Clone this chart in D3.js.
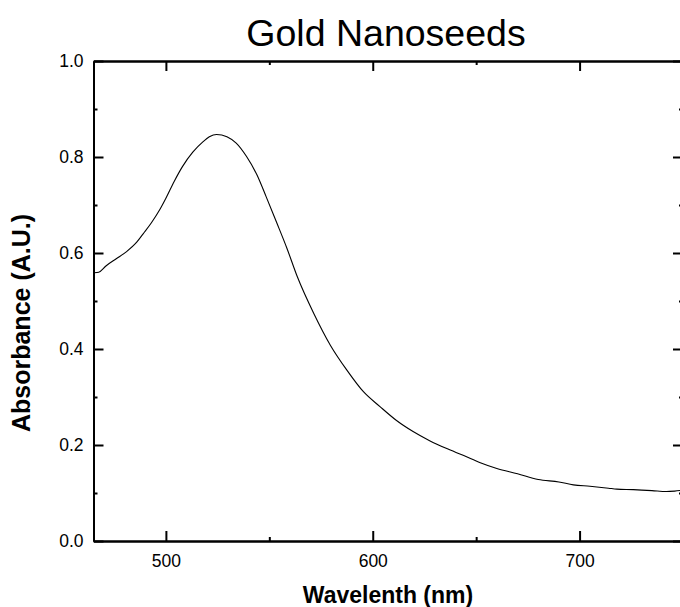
<!DOCTYPE html>
<html>
<head>
<meta charset="utf-8">
<script src="https://cdn.jsdelivr.net/npm/d3@7"></script>
<style>
  html, body { margin: 0; padding: 0; background: #fff; }
  svg { display: block; }
  text { font-family: "Liberation Sans", Arial, Helvetica, sans-serif; fill: #000; }
</style>
</head>
<body>
<svg id="chart" width="680" height="607"></svg>
<script>
// ---- data ----
const title = "Gold Nanoseeds";
const xLabel = "Wavelenth (nm)";
const yLabel = "Absorbance (A.U.)";
const xDomain = [465, 750];
const yDomain = [0, 1];
const xMajorTicks = [500, 600, 700];
const xMinorTicks = [550, 650, 750];
const yMajorTicks = [0.0, 0.2, 0.4, 0.6, 0.8, 1.0];
const yMinorTicks = [0.1, 0.3, 0.5, 0.7, 0.9];
const wavelength = [465.5, 467.5, 471, 476, 481, 486, 489, 493, 497, 500, 504, 508, 513, 518, 521, 524.5, 527, 529.5, 534, 539, 544, 548.5, 553.5, 558.5, 563.5, 571.5, 579.5, 587.5, 595.5, 603.5, 611.5, 619.5, 627.5, 635.5, 644, 652, 660, 670, 680, 690, 697, 705, 714, 718, 726, 735, 742, 746, 750];
const absorbance = [0.559, 0.560, 0.573, 0.588, 0.603, 0.623, 0.640, 0.663, 0.690, 0.714, 0.749, 0.780, 0.810, 0.832, 0.842, 0.847, 0.846, 0.842, 0.829, 0.801, 0.763, 0.717, 0.664, 0.610, 0.551, 0.474, 0.408, 0.356, 0.311, 0.280, 0.251, 0.228, 0.209, 0.193, 0.178, 0.163, 0.151, 0.140, 0.128, 0.123, 0.117, 0.114, 0.110, 0.108, 0.107, 0.105, 0.103, 0.104, 0.106];

// ---- layout ----
const svg = d3.select("#chart");
const plotLeft = 93.5, plotRight = 683, plotTop = 61, plotBottom = 541;

const x = d3.scaleLinear().domain(xDomain).range([plotLeft, plotRight]);
const y = d3.scaleLinear().domain(yDomain).range([plotBottom, plotTop]);

const majorLen = 10, minorLen = 4;

function styleAxis(g) {
  g.selectAll("path.domain").attr("stroke", "#000").attr("stroke-width", 2);
  g.selectAll(".tick line").attr("stroke", "#000").attr("stroke-width", 2);
  g.selectAll(".tick text").style("font-size", "17.5px").attr("fill", "#000")
    .style("font-family", "'Liberation Sans', Arial, sans-serif");
}

// bottom axis
svg.append("g").attr("transform", `translate(0,${plotBottom})`)
  .call(d3.axisBottom(x).tickValues(xMajorTicks).tickSizeInner(-majorLen).tickSizeOuter(0).tickFormat(d3.format("d")))
  .call(styleAxis)
  .call(g => g.selectAll(".tick text").attr("y", 14).attr("dy", "0.71em"));
svg.append("g").attr("transform", `translate(0,${plotBottom})`)
  .call(d3.axisBottom(x).tickValues(xMinorTicks).tickSizeInner(-minorLen).tickSizeOuter(0).tickFormat(""))
  .call(styleAxis);

// top axis
svg.append("g").attr("transform", `translate(0,${plotTop})`)
  .call(d3.axisTop(x).tickValues(xMajorTicks).tickSizeInner(-majorLen).tickSizeOuter(0).tickFormat(""))
  .call(styleAxis);
svg.append("g").attr("transform", `translate(0,${plotTop})`)
  .call(d3.axisTop(x).tickValues(xMinorTicks).tickSizeInner(-minorLen).tickSizeOuter(0).tickFormat(""))
  .call(styleAxis);

// left axis
svg.append("g").attr("transform", `translate(${plotLeft},0)`)
  .call(d3.axisLeft(y).tickValues(yMajorTicks).tickSizeInner(-majorLen).tickSizeOuter(0).tickFormat(d3.format(".1f")))
  .call(styleAxis)
  .call(g => g.selectAll(".tick text").attr("x", -10));
svg.append("g").attr("transform", `translate(${plotLeft},0)`)
  .call(d3.axisLeft(y).tickValues(yMinorTicks).tickSizeInner(-minorLen).tickSizeOuter(0).tickFormat(""))
  .call(styleAxis);

// right axis
svg.append("g").attr("transform", `translate(${plotRight},0)`)
  .call(d3.axisRight(y).tickValues(yMajorTicks).tickSizeInner(-majorLen).tickSizeOuter(0).tickFormat(""))
  .call(styleAxis);
svg.append("g").attr("transform", `translate(${plotRight},0)`)
  .call(d3.axisRight(y).tickValues(yMinorTicks).tickSizeInner(-minorLen).tickSizeOuter(0).tickFormat(""))
  .call(styleAxis);

// data line
const line = d3.line().x((d, i) => x(wavelength[i])).y(d => y(d)).curve(d3.curveMonotoneX);
svg.append("path")
  .attr("d", line(absorbance))
  .attr("fill", "none")
  .attr("stroke", "#000")
  .attr("stroke-width", 1.1);

// titles
svg.append("text")
  .attr("x", 386).attr("y", 46)
  .attr("text-anchor", "middle")
  .style("font-size", "37.5px")
  .text(title);

svg.append("text")
  .attr("x", 388).attr("y", 603)
  .attr("text-anchor", "middle")
  .style("font-size", "23px").style("font-weight", "bold")
  .text(xLabel);

svg.append("text")
  .attr("transform", "translate(30,323) rotate(-90)")
  .attr("text-anchor", "middle")
  .style("font-size", "25px").style("font-weight", "bold")
  .text(yLabel);
</script>
</body>
</html>
